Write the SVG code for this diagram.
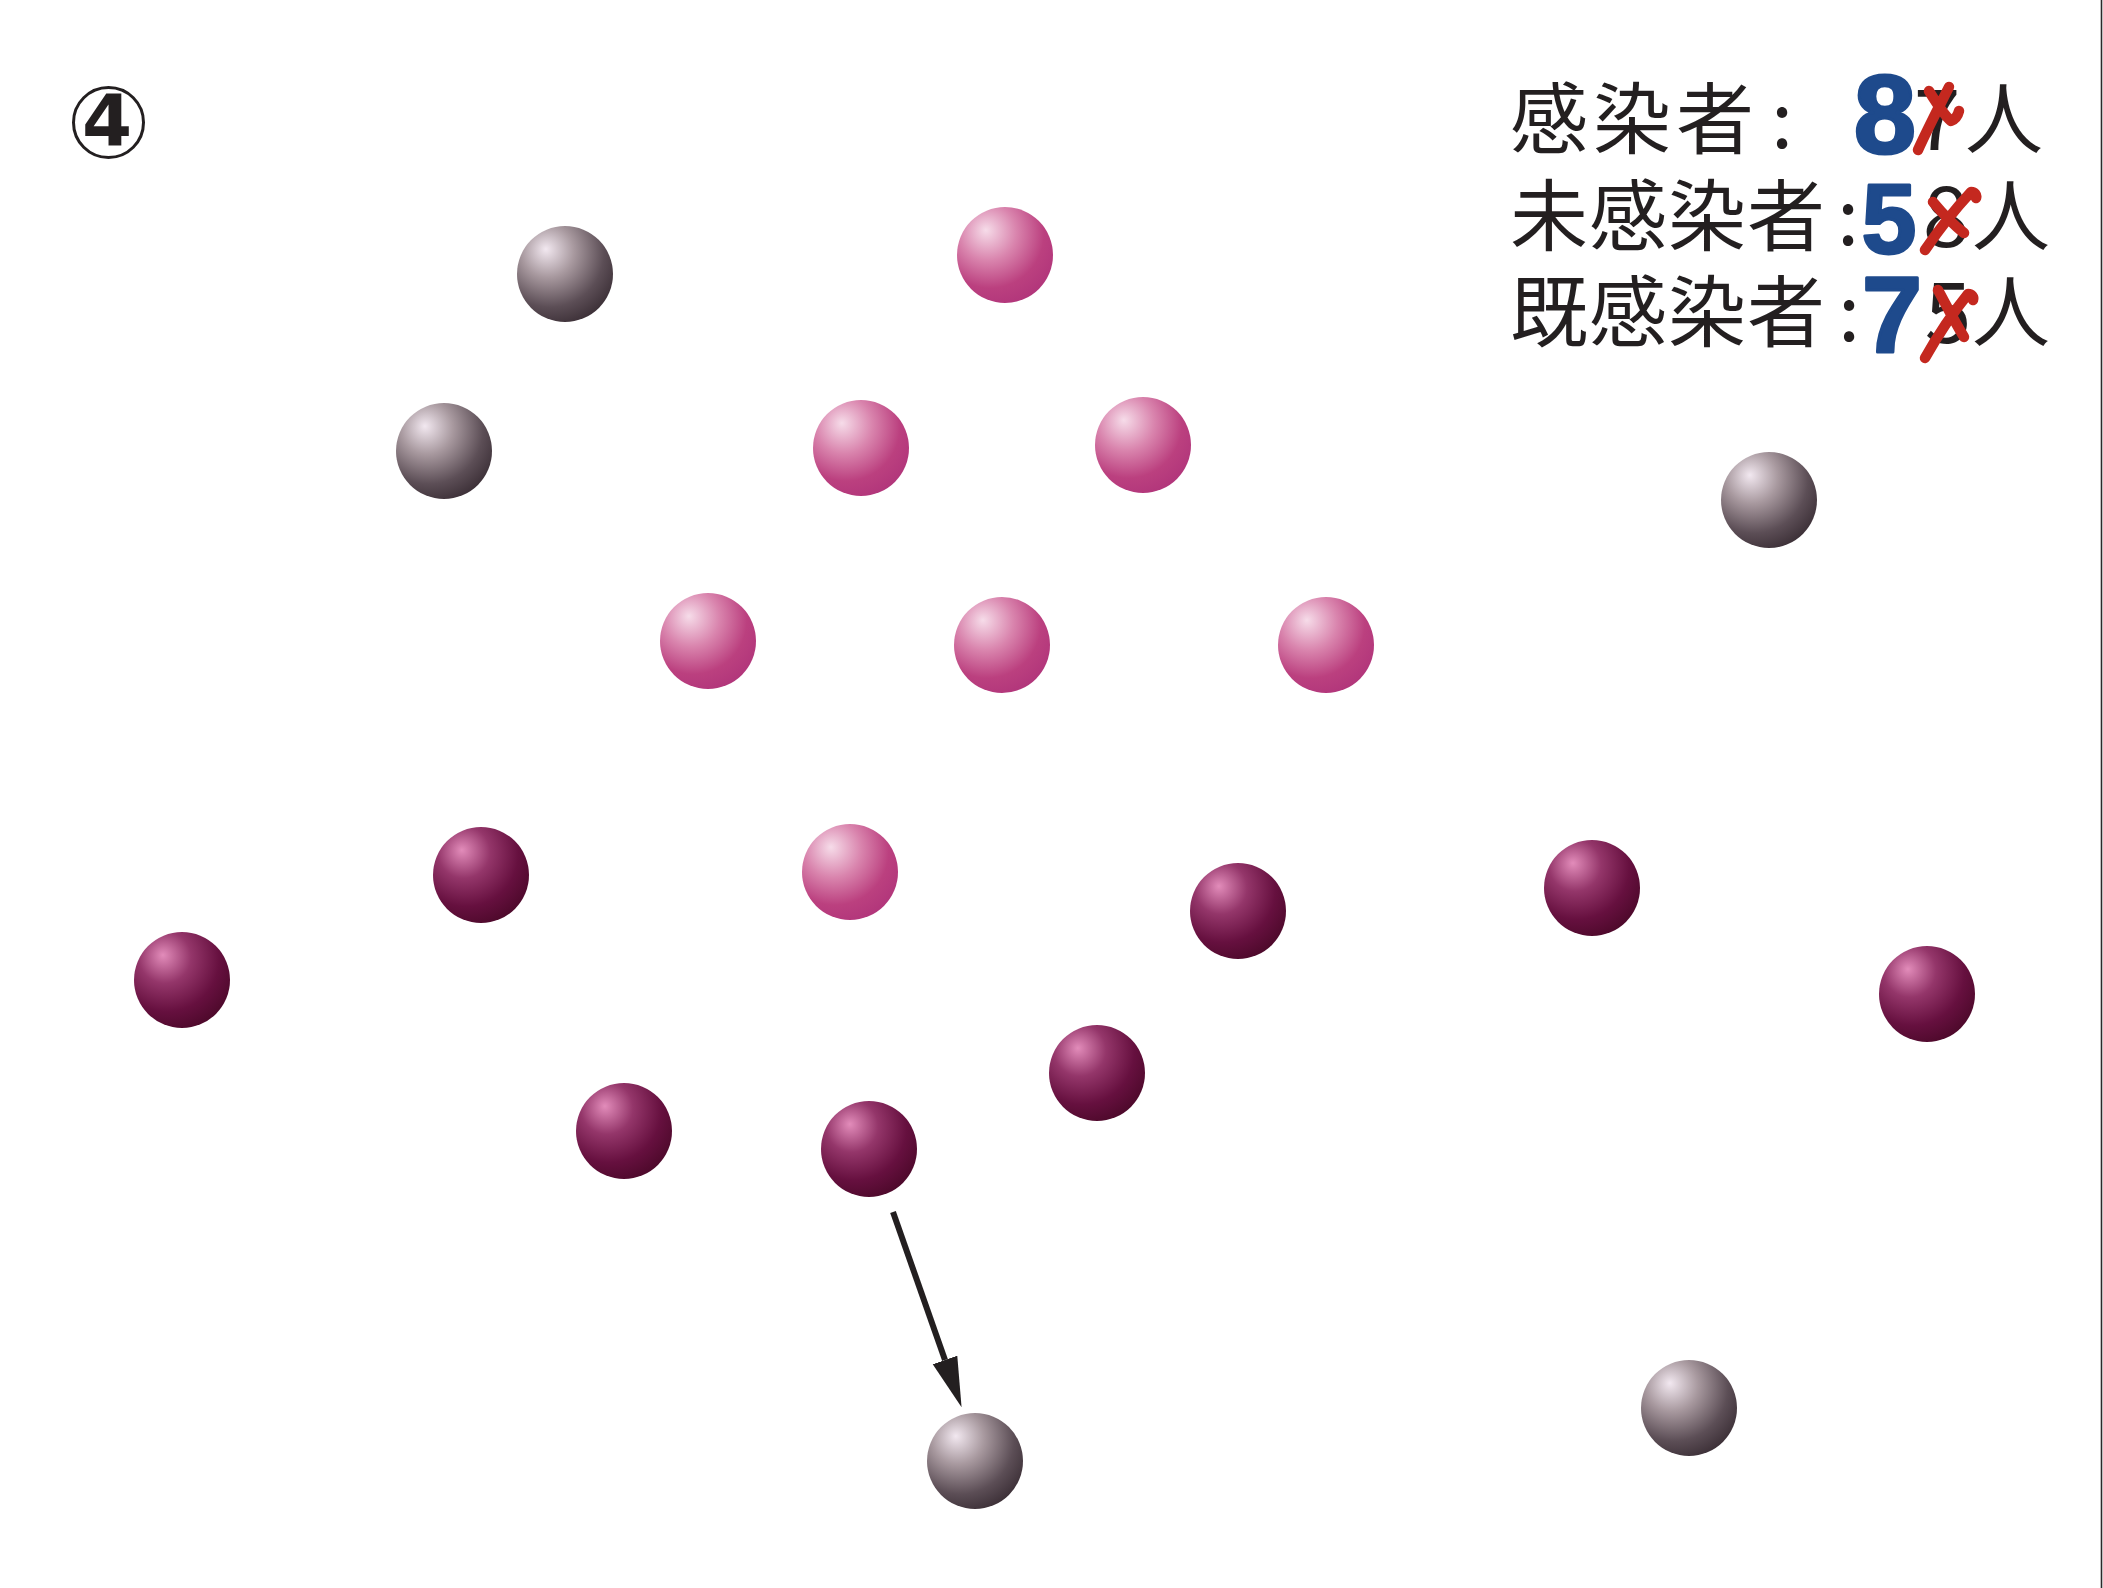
<svg xmlns="http://www.w3.org/2000/svg" width="2103" height="1588" viewBox="0 0 2103 1588">
<style>
.lbl{font-family:"Noto Sans CJK JP","Noto Sans CJK SC",sans-serif;font-size:78px;fill:#231f20}
.num{font-family:"Noto Sans CJK JP","Noto Sans",sans-serif;font-size:84px;fill:#231f20}
.hand{font-family:"Liberation Sans","DejaVu Sans",sans-serif;font-weight:bold;fill:#1e4a8c;stroke:#1e4a8c;stroke-width:3;stroke-linejoin:round}
.x{fill:none;stroke:#c4281f;stroke-width:10.5;stroke-linecap:round;stroke-linejoin:round}
.g{fill:url(#gGray)}
.p{fill:url(#gPink)}
.d{fill:url(#gDark)}
</style>
<defs>
<radialGradient id="gGray" cx="0.36" cy="0.3" r="0.78" fx="0.3" fy="0.24">
<stop offset="0" stop-color="#f2e8f0"/>
<stop offset="0.35" stop-color="#a8999f"/>
<stop offset="0.72" stop-color="#5c4e56"/>
<stop offset="1" stop-color="#382c33"/>
</radialGradient>
<radialGradient id="gPink" cx="0.36" cy="0.3" r="0.78" fx="0.3" fy="0.24">
<stop offset="0" stop-color="#f6dce9"/>
<stop offset="0.38" stop-color="#d984ad"/>
<stop offset="0.72" stop-color="#bb407f"/>
<stop offset="1" stop-color="#b0347a"/>
</radialGradient>
<radialGradient id="gDark" cx="0.36" cy="0.3" r="0.78" fx="0.3" fy="0.24">
<stop offset="0" stop-color="#e28cba"/>
<stop offset="0.35" stop-color="#94366a"/>
<stop offset="0.7" stop-color="#66103f"/>
<stop offset="1" stop-color="#4a0828"/>
</radialGradient>
<marker id="ah" markerUnits="userSpaceOnUse" markerWidth="52" markerHeight="28" refX="0" refY="13" orient="auto">
<path d="M0,0 L50,13 L0,26 z" fill="#231f20"/>
</marker>
</defs>
<rect width="2103" height="1588" fill="#ffffff"/>
<line x1="2101.5" y1="0" x2="2101.5" y2="1588" stroke="#2a2a2a" stroke-width="1.6"/>

<g id="step-label">
<circle cx="108.5" cy="122.5" r="35" fill="none" stroke="#231f20" stroke-width="3"/>
<text x="107" y="145" text-anchor="middle" font-family="DejaVu Sans, sans-serif" font-weight="bold" font-size="72" fill="#231f20">4</text>
</g>

<g id="counts">
<text class="lbl" x="1510" y="148" letter-spacing="5">感染者</text>
<text class="lbl" x="1782" y="148" text-anchor="middle">:</text>
<text class="hand" x="1885" y="153" font-size="112" text-anchor="middle">8</text>
<text class="num" x="1937" y="150" text-anchor="middle">7</text>
<text class="lbl" x="1965" y="148">人</text>
<path class="x" d="M1918,150 C1928,128 1940,105 1949,87 M1929,91 C1937,104 1945,116 1951,121 C1956,119 1958,115 1959,111"/>

<text class="lbl" x="1510" y="245" letter-spacing="1">未感染者</text>
<text class="lbl" x="1848" y="245" text-anchor="middle">:</text>
<text class="hand" x="1889" y="253" font-size="98" text-anchor="middle">5</text>
<text class="num" x="1946" y="247" text-anchor="middle">8</text>
<text class="lbl" x="1972" y="245">人</text>
<path class="x" d="M1925,250 C1940,228 1958,206 1971,192 C1975,192 1977,195 1976,198 M1933,202 C1943,214 1955,226 1964,233"/>

<text class="lbl" x="1510" y="341" letter-spacing="1">既感染者</text>
<text class="lbl" x="1849" y="341" text-anchor="middle">:</text>
<text class="hand" x="1892" y="352" font-size="108" text-anchor="middle">7</text>
<text class="num" x="1948" y="343" text-anchor="middle">5</text>
<text class="lbl" x="1972" y="341">人</text>
<path class="x" d="M1925,358 C1938,335 1955,310 1968,294 C1972,294 1974,297 1973,300 M1938,290 C1946,305 1956,324 1964,337"/>
</g>

<g id="connectors">
<line x1="893" y1="1212" x2="945" y2="1360" stroke="#231f20" stroke-width="6" marker-end="url(#ah)"/>
</g>

<g id="gray-1"><circle class="g" cx="565" cy="274" r="48"/></g>
<g id="gray-2"><circle class="g" cx="444" cy="451" r="48"/></g>
<g id="gray-3"><circle class="g" cx="1769" cy="500" r="48"/></g>
<g id="gray-4"><circle class="g" cx="975" cy="1461" r="48"/></g>
<g id="gray-5"><circle class="g" cx="1689" cy="1408" r="48"/></g>

<g id="pink-1"><circle class="p" cx="1005" cy="255" r="48"/></g>
<g id="pink-2"><circle class="p" cx="861" cy="448" r="48"/></g>
<g id="pink-3"><circle class="p" cx="1143" cy="445" r="48"/></g>
<g id="pink-4"><circle class="p" cx="708" cy="641" r="48"/></g>
<g id="pink-5"><circle class="p" cx="1002" cy="645" r="48"/></g>
<g id="pink-6"><circle class="p" cx="1326" cy="645" r="48"/></g>
<g id="pink-7"><circle class="p" cx="850" cy="872" r="48"/></g>

<g id="dark-1"><circle class="d" cx="481" cy="875" r="48"/></g>
<g id="dark-2"><circle class="d" cx="182" cy="980" r="48"/></g>
<g id="dark-3"><circle class="d" cx="1238" cy="911" r="48"/></g>
<g id="dark-4"><circle class="d" cx="1592" cy="888" r="48"/></g>
<g id="dark-5"><circle class="d" cx="1927" cy="994" r="48"/></g>
<g id="dark-6"><circle class="d" cx="1097" cy="1073" r="48"/></g>
<g id="dark-7"><circle class="d" cx="624" cy="1131" r="48"/></g>
<g id="dark-8"><circle class="d" cx="869" cy="1149" r="48"/></g>
</svg>
